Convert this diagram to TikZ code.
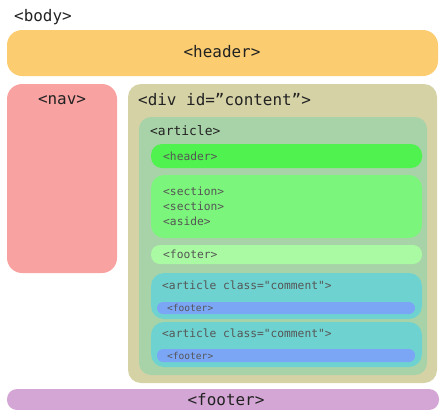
\documentclass[tikz,border=0pt]{standalone}
\usepackage{fontspec}
\newfontfamily\monofam{DejaVu Sans Mono}
\definecolor{cHead}{HTML}{FBCC70}
\definecolor{cNav}{HTML}{F9A2A2}
\definecolor{cDiv}{HTML}{D5D2A6}
\definecolor{cArt}{HTML}{A8D3A8}
\definecolor{cGreen}{HTML}{4FF24F}
\definecolor{cSec}{HTML}{7CF57C}
\definecolor{cFootG}{HTML}{A9FAA2}
\definecolor{cCom}{HTML}{6ED3D0}
\definecolor{cBlue}{HTML}{7BA6F6}
\definecolor{cPurp}{HTML}{D4A6D5}
\definecolor{cTxt}{HTML}{222222}
\definecolor{cSmall}{HTML}{555555}
\begin{document}
\begin{tikzpicture}[x=1bp,y=-1bp,
  box/.style={rectangle,inner sep=0pt,outer sep=0pt,anchor=north west,draw=none},
  bigtxt/.style={inner sep=0pt,text=cTxt,font=\monofam\fontsize{16}{19}\selectfont},
  midtxt/.style={inner sep=0pt,text=cTxt,font=\monofam\fontsize{13}{16}\selectfont},
  smalltxt/.style={inner sep=0pt,text=cSmall,font=\monofam\fontsize{11.3}{15.3}\selectfont},
  tinytxt/.style={inner sep=0pt,text=cSmall,font=\monofam\fontsize{9.6}{12}\selectfont}]
\useasboundingbox (0,0) rectangle (440,409);
\begin{scope}
\clip (0,0) rectangle (440,409);
% outer boxes
\node[box,fill=cHead,rounded corners=15bp,minimum width=431bp,minimum height=46bp] (header) at (7,30) {};
\node[box,fill=cNav,rounded corners=15bp,minimum width=110bp,minimum height=189bp] (nav) at (7,84) {};
\node[box,fill=cDiv,rounded corners=13bp,minimum width=309bp,minimum height=299bp] (div) at (128,84) {};
\node[box,fill=cArt,rounded corners=12bp,minimum width=288bp,minimum height=258bp] (article) at (139,117) {};
\node[box,fill=cGreen,rounded corners=11bp,minimum width=271bp,minimum height=24bp] (aheader) at (151,144) {};
\node[box,fill=cSec,rounded corners=13bp,minimum width=271bp,minimum height=63bp] (sec) at (151,175) {};
\node[box,fill=cFootG,rounded corners=9bp,minimum width=271bp,minimum height=19bp] (afooter) at (151,245) {};
\node[box,fill=cCom,rounded corners=13bp,minimum width=271bp,minimum height=46bp] (com1) at (151,273) {};
\node[box,fill=cBlue,rounded corners=6bp,minimum width=258bp,minimum height=12bp] (cfoot1) at (157,302) {};
\node[box,fill=cCom,rounded corners=13bp,minimum width=271bp,minimum height=45bp] (com2) at (151,322) {};
\node[box,fill=cBlue,rounded corners=6bp,minimum width=258bp,minimum height=13bp] (cfoot2) at (157,349) {};
\node[box,fill=cPurp,rounded corners=10bp,minimum width=432bp,minimum height=21bp] (footer) at (7,389) {};
\end{scope}
% labels
\node[bigtxt,anchor=west] (tbody) at (14,17) {<body>};
\node[bigtxt] (theader) at (222,52) {<header>};
\node[bigtxt] (tnav) at (62,100) {<nav>};
\node[bigtxt,anchor=west] (tdiv) at (138,100) {<div id=”content”>};
\node[midtxt,anchor=west] (tart) at (150,131) {<article>};
\node[smalltxt,anchor=west] (tah) at (163,156) {<header>};
\node[smalltxt,anchor=north west,align=left] (tsec) at (163,186.5) {<section>\\<section>\\<aside>};
\node[smalltxt,anchor=west] (taf) at (163,254) {<footer>};
\node[smalltxt,anchor=west] (tc1) at (162,285) {<article class="comment">};
\node[tinytxt,anchor=west] (tcf1) at (167,307.5) {<footer>};
\node[smalltxt,anchor=west] (tc2) at (162,333) {<article class="comment">};
\node[tinytxt,anchor=west] (tcf2) at (167,355.5) {<footer>};
\node[bigtxt] (tfooter) at (226,400) {<footer>};
\end{tikzpicture}
\end{document}
